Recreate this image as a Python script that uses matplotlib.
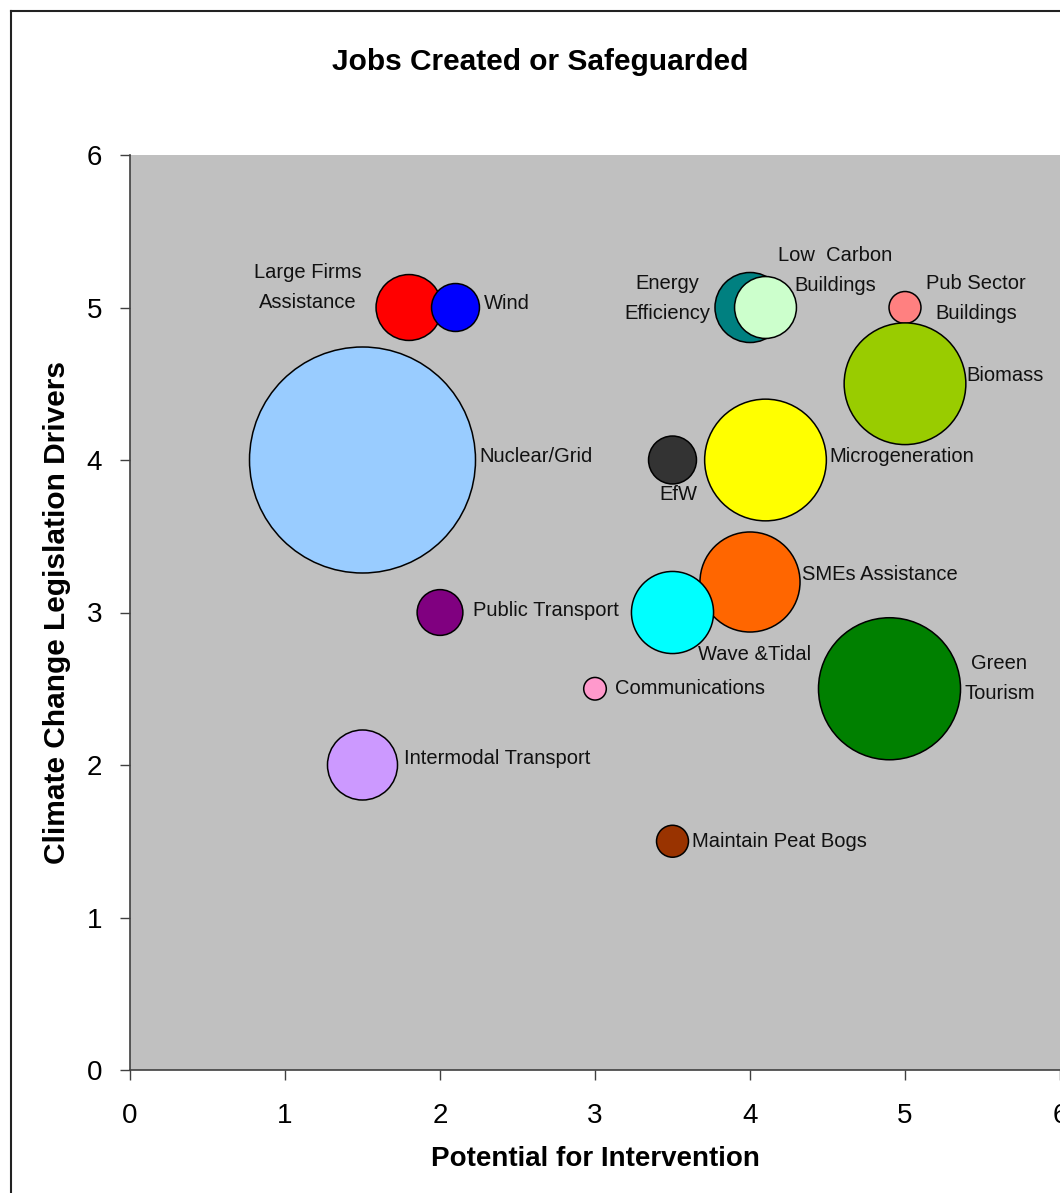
import numpy as np
import matplotlib
matplotlib.use('Agg')
import matplotlib.pyplot as plt
from matplotlib.lines import Line2D

plt.rcParams['font.family'] = ['Liberation Sans', 'DejaVu Sans']

# bubble data: name, potential for intervention, climate change drivers, jobs (bubble size)
names = ['Nuclear/Grid', 'Large Firms\nAssistance', 'Wind', 'Energy\nEfficiency',
         'Low  Carbon\nBuildings', 'Pub Sector\nBuildings', 'Biomass', 'EfW',
         'Microgeneration', 'SMEs Assistance', 'Wave &Tidal', 'Public Transport',
         'Communications', 'Green\nTourism', 'Intermodal Transport', 'Maintain Peat Bogs']
potential = [1.5, 1.8, 2.1, 4.0, 4.1, 5.0, 5.0, 3.5, 4.1, 4.0, 3.5, 2.0, 3.0, 4.9, 1.5, 3.5]
drivers = [4.0, 5.0, 5.0, 5.0, 5.0, 5.0, 4.5, 4.0, 4.0, 3.2, 3.0, 3.0, 2.5, 2.5, 2.0, 1.5]
jobs = [1000, 85, 45, 96, 75, 20, 290, 45, 290, 196, 132, 41, 10, 395, 96, 20]
colors = ['#99CCFF', '#FF0000', '#0000FF', '#008080', '#CCFFCC', '#FF8080', '#99CC00', '#333333',
          '#FFFF00', '#FF6600', '#00FFFF', '#800080', '#FF99CC', '#008000', '#CC99FF', '#993300']

# label placement (pixel offsets from bubble centre) and alignment
label_offsets = [(117, 4), (-101, 20), (28, 4), (-83, 9), (70, 37), (71, 9), (61, 8), (6, -34),
                 (64, 4), (52, 8), (26, -42), (33, 2), (20, 0), (110, 10), (42, 6), (20, 0)]
label_ha = ['left', 'center', 'left', 'center', 'center', 'center', 'left', 'center',
            'left', 'left', 'left', 'left', 'left', 'center', 'left', 'left']

fig = plt.figure(figsize=(10.6, 11.93), dpi=100)
ax = fig.add_axes([130 / 1060, 123 / 1193, 930 / 1060, 915 / 1193])
ax.set_facecolor('#C0C0C0')

# Excel-style bubble: area proportional to value, largest radius ~113 px
max_r_px = 113.0
r_px = max_r_px * np.sqrt(np.array(jobs) / max(jobs))
sizes = (2 * r_px * 72 / fig.dpi) ** 2
ax.scatter(potential, drivers, s=sizes, c=colors, edgecolors='black', linewidths=1.1, zorder=3)

for i in range(len(names)):
    ax.annotate(names[i], (potential[i], drivers[i]), xytext=label_offsets[i],
                textcoords='offset pixels', ha=label_ha[i], va='center',
                fontsize=14.5, linespacing=1.75, color='#111111', zorder=4)

ax.set_xlim(0, 6)
ax.set_ylim(0, 6)
ax.set_xticks(range(7))
ax.set_yticks(range(7))
ax.tick_params(axis='both', labelsize=20, direction='out', length=7, width=1, color='#404040')
ax.tick_params(axis='x', pad=17)
ax.tick_params(axis='y', pad=13)
for side in ['top', 'right']:
    ax.spines[side].set_visible(False)
for side in ['left', 'bottom']:
    ax.spines[side].set_color('#404040')
    ax.spines[side].set_linewidth(1.2)

ax.set_xlabel('Potential for Intervention', fontsize=20, fontweight='bold', labelpad=12)
ax.set_ylabel('Climate Change Legislation Drivers', fontsize=21.5, fontweight='bold', labelpad=11)
fig.text(540 / 1060, 1 - 62 / 1193, 'Jobs Created or Safeguarded', ha='center', va='center',
         fontsize=21.5, fontweight='bold')

# chart area border (cut off at right and bottom like the original)
fig.add_artist(Line2D([11 / 1060, 11 / 1060], [0, 1 - 11 / 1193], color='#222222', linewidth=1.5))
fig.add_artist(Line2D([11 / 1060, 1], [1 - 11 / 1193, 1 - 11 / 1193], color='#222222', linewidth=1.5))

fig.savefig('out.png', dpi=100)
